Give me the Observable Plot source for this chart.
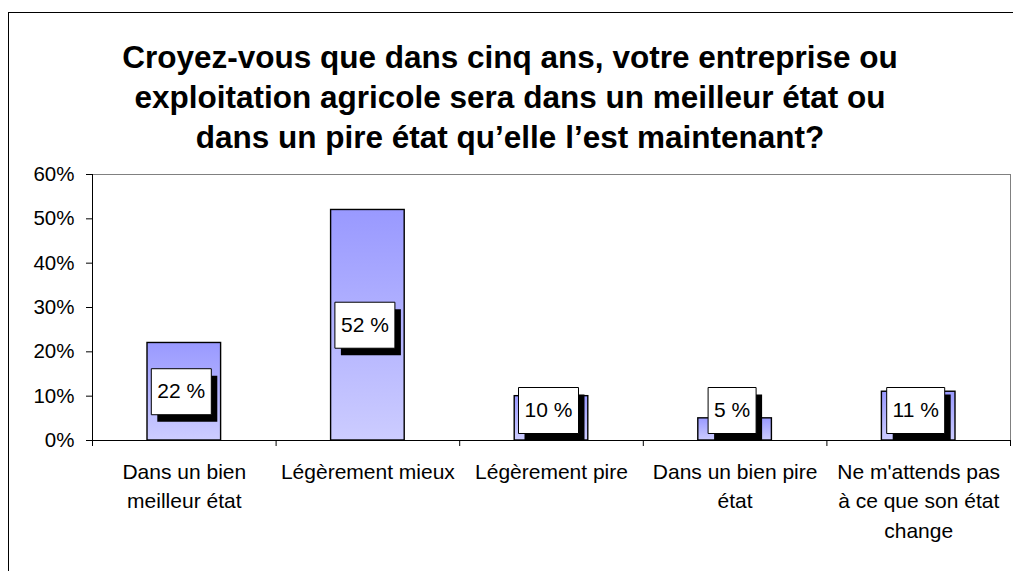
<!DOCTYPE html>
<html><head><meta charset="utf-8">
<script src="https://cdn.jsdelivr.net/npm/d3@7"></script>
<script src="https://cdn.jsdelivr.net/npm/@observablehq/plot@0.6"></script>
<style>
html,body{margin:0;padding:0;background:#fff;overflow:hidden;width:1013px;height:571px}
#stage{position:absolute;left:0;top:0;width:1013px;height:571px;font-family:"Liberation Sans",Arial,sans-serif}
#frame{position:absolute;left:8px;top:12px;width:1100px;height:600px;border-left:1px solid #000;border-top:1px solid #000}
#title{position:absolute;left:7px;right:0;top:37px;text-align:center;font-weight:bold;font-size:31.5px;line-height:40px;color:#000;white-space:nowrap}
#chart{position:absolute;left:0;top:160px}
</style></head><body>
<div id="stage"><div id="frame"></div><div id="title"></div><div id="chart"></div></div>
<script>
const titleLines = [
  "Croyez-vous que dans cinq ans, votre entreprise ou",
  "exploitation agricole sera dans un meilleur état ou",
  "dans un pire état qu’elle l’est maintenant?"
];
const categories = [
  "Dans un bien\nmeilleur état",
  "Légèrement mieux",
  "Légèrement pire",
  "Dans un bien pire\nétat",
  "Ne m'attends pas\nà ce que son état\nchange"
];
const values = [22, 52, 10, 5, 11];
const yTicks = [0, 0.1, 0.2, 0.3, 0.4, 0.5, 0.6];

document.getElementById("title").innerHTML = titleLines.join("<br>");

const W = 1013, H = 411, mt = 14, mb = 131, ml = 92, mr = 3;
const plotH = H - mt - mb;
const yMax = yTicks[yTicks.length - 1];
const fontFamily = "'Liberation Sans', Arial, sans-serif";
const fs = 21;

const data = values.map((v, i) => ({i, v, cat: categories[i], label: `${v} %`}));
const minCenter = 30 * yMax / plotH;
const labelY = d => Math.max(d.v / 200, minCenter);

const ctx = document.createElement("canvas").getContext("2d");
ctx.font = `${fs}px ${fontFamily}`;
const boxH = 46;
const rectSym = (w, h) => ({draw(c) { c.moveTo(-w/2, -h/2); c.lineTo(w/2, -h/2); c.lineTo(w/2, h/2); c.lineTo(-w/2, h/2); c.closePath(); }});

const shadowMarks = [], boxMarks = [];
data.forEach(d => {
  const w = Math.round(ctx.measureText(d.label).width + 12);
  shadowMarks.push(Plot.dot([d], {x: d => d.i + 0.5, y: labelY, dx: 3, dy: 7, r: 5, symbol: rectSym(w, boxH), fill: "#000", stroke: "none"}));
  boxMarks.push(Plot.dot([d], {x: d => d.i + 0.5, y: labelY, dx: -3, r: 5, symbol: rectSym(w, boxH), fill: "#fff", stroke: "#000", strokeWidth: 1}));
});
const xBounds = d3.range(categories.length + 1);

const plot = Plot.plot({
  width: W, height: H,
  marginTop: mt, marginBottom: mb, marginLeft: ml, marginRight: mr,
  style: {background: "transparent", color: "#000", fontFamily, fontSize: fs + "px", overflow: "visible"},
  x: {domain: [0, categories.length]},
  y: {domain: [0, yMax], label: null},
  marks: [
    Plot.frame({stroke: "#808080"}),
    Plot.rectY(data, {x1: d => d.i, x2: d => d.i + 1, y: d => d.v / 100, insetLeft: 55, insetRight: 55, fill: "url(#barGrad)", stroke: "#000", strokeWidth: 1.4}),
    Plot.ruleX([0], {stroke: "#000", strokeWidth: 1}),
    Plot.ruleY([0], {stroke: "#000", strokeWidth: 1}),
    Plot.axisY({ticks: yTicks, tickFormat: d3.format(".0%"), tickSize: 6, tickPadding: 12, fontSize: 20.5, fill: "#000", stroke: "#000", label: null}),
    Plot.axisX({ticks: xBounds, tickFormat: () => "", tickSize: 6, stroke: "#000", label: null}),
    ...shadowMarks,
    ...boxMarks,
    Plot.text(data, {x: d => d.i + 0.5, y: labelY, dx: -3, text: "label", fontSize: fs, fill: "#000"}),
    Plot.text(data, {x: d => d.i + 0.5, y: 0, text: "cat", lineAnchor: "top", dy: 17, lineHeight: 1.42, fontSize: fs, fill: "#000"})
  ]
});

const defs = d3.select(plot).insert("defs", ":first-child");
const lg = defs.append("linearGradient").attr("id", "barGrad").attr("x1", 0).attr("y1", 0).attr("x2", 0).attr("y2", 1);
lg.append("stop").attr("offset", "0%").attr("stop-color", "#9999ff");
lg.append("stop").attr("offset", "100%").attr("stop-color", "#ccccff");

document.getElementById("chart").appendChild(plot);
</script>
</body></html>
